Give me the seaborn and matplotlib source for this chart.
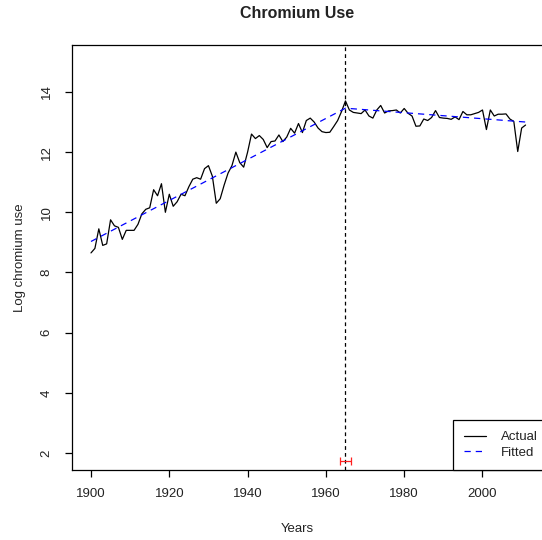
import numpy as np
import pandas as pd
import matplotlib
matplotlib.use("Agg")
import matplotlib.pyplot as plt
import seaborn as sns

# ---- data ----
years = list(range(1900, 2012))
log_use = [
    8.65, 8.80, 9.45, 8.90, 8.95, 9.75, 9.55, 9.50, 9.10, 9.40,   # 1900-1909
    9.40, 9.40, 9.60, 9.95, 10.10, 10.15, 10.75, 10.55, 10.95, 10.00,  # 1910-1919
    10.60, 10.20, 10.35, 10.60, 10.55, 10.85, 11.10, 11.15, 11.10, 11.45,  # 1920-1929
    11.55, 11.20, 10.30, 10.45, 10.90, 11.30, 11.55, 12.00, 11.65, 11.50,  # 1930-1939
    12.00, 12.60, 12.45, 12.55, 12.42, 12.15, 12.35, 12.37, 12.57, 12.35,  # 1940-1949
    12.50, 12.79, 12.63, 12.95, 12.65, 13.05, 13.13, 13.00, 12.80, 12.68,  # 1950-1959
    12.65, 12.66, 12.85, 13.05, 13.35, 13.70, 13.40, 13.32, 13.30, 13.28,  # 1960-1969
    13.40, 13.20, 13.13, 13.40, 13.55, 13.30, 13.37, 13.38, 13.40, 13.30,  # 1970-1979
    13.45, 13.29, 13.20, 12.86, 12.87, 13.10, 13.05, 13.15, 13.38, 13.15,  # 1980-1989
    13.13, 13.12, 13.09, 13.17, 13.08, 13.35, 13.24, 13.24, 13.28, 13.32,  # 1990-1999
    13.40, 12.75, 13.40, 13.20, 13.26, 13.26, 13.27, 13.10, 13.02, 12.02,  # 2000-2009
    12.80, 12.90,                                                          # 2010-2011
]
fit_years = [1900, 1965, 2011]
fit_values = [9.03, 13.46, 13.00]
break_year = 1965
break_ci = [1963.7, 1966.3]
break_ci_y = 1.73
legend_labels = ["Actual", "Fitted"]
x_ticks = [1900, 1920, 1940, 1960, 1980, 2000]
y_ticks = [2, 4, 6, 8, 10, 12, 14]

actual = pd.DataFrame({"Years": years, "value": log_use})
fitted = pd.DataFrame({"Years": fit_years, "value": fit_values})

sns.set_theme(style="white")
plt.rcParams["font.family"] = ["Liberation Sans", "DejaVu Sans"]

W, H = 542, 540
fig = plt.figure(figsize=(W / 100, H / 100), dpi=100)
ax_left, ax_right, ax_top, ax_bottom = 72, 560, 45, 470
ax = fig.add_axes([ax_left / W, 1 - ax_bottom / H,
                   (ax_right - ax_left) / W, (ax_bottom - ax_top) / H])

sns.lineplot(data=actual, x="Years", y="value", ax=ax, color="black",
             linewidth=0.9, label=legend_labels[0])
sns.lineplot(data=fitted, x="Years", y="value", ax=ax, color="#0000FF",
             linewidth=0.9, linestyle=(0, (5, 4)), label=legend_labels[1])

ax.axvline(break_year, color="black", linewidth=0.9, linestyle=(0, (3, 2.5)))
ax.errorbar([break_year], [break_ci_y],
            xerr=[[break_year - break_ci[0]], [break_ci[1] - break_year]],
            fmt="none", ecolor="#FF2020", elinewidth=0.9, capsize=2.6,
            capthick=0.9)

ax.set_xlim(1895.15, 1900 + (ax_right - 91) / 3.915)
ax.set_ylim(1.435, 15.56)
ax.set_xticks(x_ticks)
ax.set_yticks(y_ticks)
ax.set_yticklabels([str(v) for v in y_ticks], rotation=90, va="center")

for s in ax.spines.values():
    s.set_color("black")
    s.set_linewidth(0.9)

ax.tick_params(axis="both", which="major", direction="out", length=5,
               width=0.9, color="black", labelsize=9.5, labelcolor="#222222",
               bottom=True, left=True)
ax.tick_params(axis="x", pad=8)
ax.tick_params(axis="y", pad=9)

ax.set_xlabel("Years", fontsize=9.5, color="#222222")
ax.xaxis.set_label_coords((297 - ax_left) / (ax_right - ax_left), -0.125)
ax.set_ylabel("Log chromium use", fontsize=9.5, color="#222222")
ax.yaxis.set_label_coords(-(ax_left - 26) / (ax_right - ax_left), 0.5)

fig.text(297 / W, 1 - 14 / H, "Chromium Use", ha="center", va="center",
         fontsize=11.5, fontweight="bold", color="#222222")

leg_x0 = (453 - ax_left) / (ax_right - ax_left)
leg = ax.legend(loc="lower left", bbox_to_anchor=(leg_x0, 0, 0.3, 0.1),
                mode="expand", borderaxespad=0, fontsize=9.5, frameon=True,
                fancybox=False, framealpha=1, edgecolor="black",
                handlelength=1.65, handletextpad=1.1, borderpad=0.85,
                labelspacing=0.25)
leg.get_frame().set_linewidth(0.9)
for t in leg.get_texts():
    t.set_color("#222222")

fig.savefig("out.png", dpi=100)
